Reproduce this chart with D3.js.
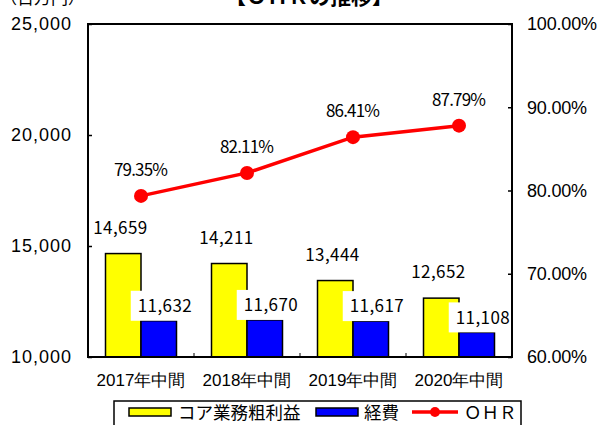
<!DOCTYPE html>
<html lang="ja">
<head>
<meta charset="UTF-8" />
<title>OHRの推移</title>
<script src="https://cdn.jsdelivr.net/npm/d3@7"></script>
<style>
  body { margin: 0; background: #fff; }
  svg { display: block; font-family: "Noto Sans CJK JP", "Noto Sans", sans-serif; }
</style>
</head>
<body>
<div id="chart"></div>
<script>
var categories = ["2017年中間", "2018年中間", "2019年中間", "2020年中間"];
var coreProfit = [14659, 14211, 13444, 12652];
var expenses = [11632, 11670, 11617, 11108];
var ohr = [79.35, 82.11, 86.41, 87.79];
var leftTicks = [10000, 15000, 20000, 25000];
var rightTicks = [60, 70, 80, 90, 100];

var width = 598, height = 425;
// plot box ("top" is taken on window, so plot* names)
var plotL = 88, plotR = 512, plotT = 24, plotB = 357;

var svg = d3.select("#chart").append("svg")
  .attr("width", width).attr("height", height);

var x = d3.scaleBand().domain(categories).range([plotL, plotR]);
var yL = d3.scaleLinear().domain([10000, 25000]).range([plotB, plotT]);
var yR = d3.scaleLinear().domain([60, 100]).range([plotB, plotT]);
var fmt = d3.format(",");
var pct = function(d){ return d.toFixed(2) + "%"; };

// spread numbers out a bit, like the monospace font of the original
function spread(sel, perChar){
  sel.attr("textLength", function(){ return this.textContent.length * perChar; })
     .attr("lengthAdjust", "spacing");
}

// title + unit (mostly cut off at the top)
svg.append("text").attr("x", 309).attr("y", 4).attr("text-anchor", "middle")
  .style("font-size", "21px").style("font-weight", "bold").text("【ＯＨＲの推移】");
svg.append("text").attr("x", 0).attr("y", 4)
  .style("font-size", "17px").text("（百万円）");

// axes
var axL = svg.append("g").attr("transform", "translate(" + plotL + ",0)")
  .call(d3.axisLeft(yL).tickValues(leftTicks).tickSize(-4).tickPadding(17).tickFormat(fmt));
var axR = svg.append("g").attr("transform", "translate(" + plotR + ",0)")
  .call(d3.axisRight(yR).tickValues(rightTicks).tickSize(-4).tickPadding(15).tickFormat(pct));
var axB = svg.append("g").attr("transform", "translate(0," + plotB + ")")
  .call(d3.axisBottom(x).tickSize(0).tickPadding(17));
[axL, axR, axB].forEach(function(a){
  a.select(".domain").remove();
  a.selectAll("line").attr("stroke", "#000").attr("stroke-width", 1.5);
  a.selectAll("text").attr("fill", "#000");
});
axL.selectAll("text").style("font-size", "18px").call(spread, 10);
axR.selectAll("text").style("font-size", "18px").call(spread, 10);
axB.selectAll("text").style("font-size", "17px");

// category separators
svg.selectAll(".sep").data(categories.slice(1)).enter().append("line")
  .attr("x1", function(d){ return x(d); }).attr("x2", function(d){ return x(d); })
  .attr("y1", plotB).attr("y2", plotB - 4).attr("stroke", "#000");

var bw = 35.5;
var mid = function(i){ return x(categories[i]) + x.bandwidth() / 2; };

svg.selectAll(".core").data(coreProfit).enter().append("rect")
  .attr("x", function(d, i){ return mid(i) - bw; })
  .attr("y", function(d){ return yL(d); })
  .attr("width", bw).attr("height", function(d){ return plotB - yL(d); })
  .attr("fill", "#ffff00").attr("stroke", "#000").attr("stroke-width", 1.5);
svg.selectAll(".exp").data(expenses).enter().append("rect")
  .attr("x", function(d, i){ return mid(i); })
  .attr("y", function(d){ return yL(d); })
  .attr("width", bw).attr("height", function(d){ return plotB - yL(d); })
  .attr("fill", "#0000ff").attr("stroke", "#000").attr("stroke-width", 1.5);

// bar labels
svg.selectAll(".coreLbl").data(coreProfit).enter().append("text")
  .attr("x", function(d, i){ return mid(i) - bw / 2 - 3; })
  .attr("y", function(d){ return yL(d) - 20; })
  .attr("text-anchor", "middle").style("font-size", "17px").text(fmt)
  .call(spread, 9);
var expLbl = svg.selectAll(".expLbl").data(expenses).enter().append("g")
  .attr("transform", function(d, i){
    return "translate(" + (mid(i) + bw / 2 + 6) + "," + (yL(d) - 15) + ")";
  });
expLbl.append("rect").attr("x", -34).attr("y", -15).attr("width", 68).attr("height", 30).attr("fill", "#fff");
expLbl.append("text").attr("text-anchor", "middle").attr("dy", "0.36em")
  .style("font-size", "17px").text(fmt).call(spread, 9);

// OHR line
var line = d3.line()
  .x(function(d, i){ return mid(i); })
  .y(function(d){ return yR(d); });
svg.append("path").datum(ohr).attr("d", line)
  .attr("fill", "none").attr("stroke", "#ff0000").attr("stroke-width", 3.5);
svg.selectAll(".pt").data(ohr).enter().append("circle")
  .attr("cx", function(d, i){ return mid(i); })
  .attr("cy", function(d){ return yR(d); })
  .attr("r", 7).attr("fill", "#ff0000");
svg.selectAll(".ohrLbl").data(ohr).enter().append("text")
  .attr("x", function(d, i){ return mid(i); })
  .attr("y", function(d){ return yR(d) - 20; })
  .attr("text-anchor", "middle").style("font-size", "17px")
  .text(pct).call(spread, 9);

// plot frame on top so the label boxes do not hide it
svg.append("rect").attr("x", plotL).attr("y", plotT)
  .attr("width", plotR - plotL).attr("height", plotB - plotT)
  .attr("fill", "none").attr("stroke", "#000").attr("stroke-width", 2);

// legend
var lg = svg.append("g");
lg.append("rect").attr("x", 114).attr("y", 401).attr("width", 407).attr("height", 30)
  .attr("fill", "#fff").attr("stroke", "#000").attr("stroke-width", 1.5);
lg.append("rect").attr("x", 129).attr("y", 408).attr("width", 42).attr("height", 8)
  .attr("fill", "#ffff00").attr("stroke", "#000").attr("stroke-width", 1.5);
lg.append("text").attr("x", 178).attr("y", 419).style("font-size", "17.5px").text("コア業務粗利益");
lg.append("rect").attr("x", 316).attr("y", 408).attr("width", 42).attr("height", 8)
  .attr("fill", "#0000ff").attr("stroke", "#000").attr("stroke-width", 1.5);
lg.append("text").attr("x", 364).attr("y", 419).style("font-size", "17.5px").text("経費");
lg.append("line").attr("x1", 412).attr("x2", 458).attr("y1", 412).attr("y2", 412)
  .attr("stroke", "#ff0000").attr("stroke-width", 3.5);
lg.append("circle").attr("cx", 435).attr("cy", 412).attr("r", 5).attr("fill", "#ff0000");
lg.append("text").attr("x", 464).attr("y", 419).style("font-size", "17.5px").text("ＯＨＲ");
</script>
</body>
</html>
